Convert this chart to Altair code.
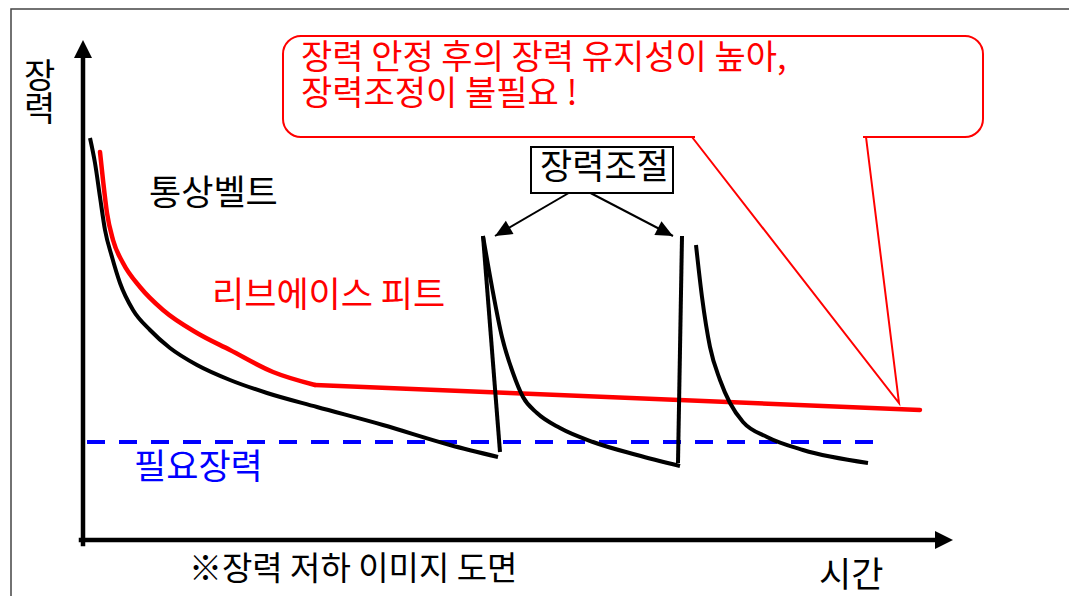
import math
import altair as alt
import pandas as pd

# ---------------- data (time, tension) ----------------
belt1_t = [0.7, 1.2, 1.7, 2.2, 2.9, 3.7, 5.0, 6.7, 8.7, 11.4, 14.7, 18.4, 23.4, 30.0, 36.7, 41.5]
belt1_v = [80.2, 75.2, 68.4, 61.8, 56.4, 51.2, 45.8, 41.8, 38.2, 34.8, 31.8, 29.2, 26.4, 22.8, 18.8, 16.4]
belt2_t = [40.0, 40.9, 41.9, 43.0, 44.0, 45.4, 47.7, 51.0, 55.4, 59.7]
belt2_v = [60.6, 50.4, 40.4, 33.2, 28.4, 25.2, 22.2, 19.4, 16.8, 14.6]
belt3_t = [61.3, 61.9, 62.7, 63.7, 64.7, 66.0, 68.4, 72.0, 78.5]
belt3_v = [58.8, 48.4, 38.4, 31.8, 27.2, 23.4, 20.4, 17.8, 15.2]
reset1_t = [41.7, 40.0]
reset1_v = [17.4, 60.6]
reset2_t = [59.5, 59.9]
reset2_v = [15.2, 60.6]
rib_curve_t = [1.7, 2.0, 2.4, 3.0, 4.0, 5.7, 8.0, 11.4, 14.7, 19.0, 23.2]
rib_curve_v = [77.4, 71.8, 65.2, 59.8, 55.2, 50.4, 45.8, 41.2, 37.8, 33.4, 30.8]
rib_flat_t = [23.2, 42.7, 83.7]
rib_flat_v = [30.8, 29.2, 25.8]
need_t = [0.4, 79.5]
need_v = [19.4, 19.4]

# axes (origin, arrow tips)
yaxis_t = [0.0, 0.0]
yaxis_v = [-1.0, 97.0]
xaxis_t = [-0.2, 85.5]
xaxis_v = [-0.2, -0.2]
axis_tip_t = [0.0, 87.0]
axis_tip_v = [99.8, -0.2]
axis_tip_angle = [0, 90]

# "장력조절" box and its arrows
box_x = [44.8, 59.0]
box_y = [69.2, 78.4]
arrow_from = (49.6, 70.4)
arrow_tip_t = [41.2, 59.0]
arrow_tip_v = [60.6, 60.6]

# callout
call_x = [20.0, 90.0]
call_y = [80.4, 100.6]
pointer_t = [60.9, 81.6, 78.3]
pointer_v = [80.4, 27.2, 80.4]
gap_t = [61.2, 78.0]

# frame
frame_left_t = -7.2
frame_top_v = 106.0

labels = ["장\n력", "통상벨트", "리브에이스 피트", "필요장력", "※장력 저하 이미지 도면",
          "시간", "장력조절", "장력 안정 후의 장력 유지성이 높아,\n장력조정이 불필요 !"]
label_t = [-5.9, 6.6, 12.9, 5.1, 10.6, 73.6, 45.7, 21.8]
label_v = [92.2, 69.0, 48.6, 14.2, -6.2, -7.4, 74.2, 96.0]
label_size = [34, 35, 35, 35, 33, 35, 35, 34]
label_lh = [33, 35, 35, 35, 33, 35, 35, 36]
label_color = ["black", "black", "#ff0000", "#0000ff", "black",
               "black", "black", "#ff0000"]

# ---------------- geometry of plot ----------------
W, H = 1061, 588
X_DOM = [-7.5, 98.6]
Y_DOM = [-11.4, 106.2]
PX_X = W / (X_DOM[1] - X_DOM[0])
PX_Y = H / (Y_DOM[1] - Y_DOM[0])

xs = alt.Scale(domain=X_DOM, nice=False, zero=False)
ys = alt.Scale(domain=Y_DOM, nice=False, zero=False)


def X(f="t"):
    return alt.X(f"{f}:Q", scale=xs, axis=None)


def Y(f="v"):
    return alt.Y(f"{f}:Q", scale=ys, axis=None)


def series(pairs):
    rows = []
    for sid, (ts, vs) in enumerate(pairs):
        for i, (t, v) in enumerate(zip(ts, vs)):
            rows.append({"s": sid, "i": i, "t": t, "v": v})
    return pd.DataFrame(rows)


FONT = "Noto Sans CJK KR"

frame_df = pd.DataFrame({"t": [frame_left_t, frame_left_t, X_DOM[1]],
                         "v": [Y_DOM[0], frame_top_v, frame_top_v], "i": [0, 1, 2]})
frame = alt.Chart(frame_df).mark_line(color="#444444", strokeWidth=1.5).encode(
    x=X(), y=Y(), order="i:Q")

# callout bubble
call_df = pd.DataFrame({"t": [call_x[0]], "t2": [call_x[1]], "v": [call_y[0]], "v2": [call_y[1]]})
callout = alt.Chart(call_df).mark_rect(fill="white", stroke="#ff0000", strokeWidth=2,
                                       cornerRadius=18).encode(
    x=X(), x2=alt.X2("t2:Q"), y=Y(), y2=alt.Y2("v2:Q"))
gap = alt.Chart(pd.DataFrame({"t": gap_t, "v": [call_y[0]] * 2})).mark_line(
    color="white", strokeWidth=5).encode(x=X(), y=Y())
pointer = alt.Chart(pd.DataFrame({"t": pointer_t, "v": pointer_v, "i": [0, 1, 2]})).mark_line(
    color="#ff0000", strokeWidth=2, strokeJoin="miter").encode(x=X(), y=Y(), order="i:Q")

# required tension
need = alt.Chart(pd.DataFrame({"t": need_t, "v": need_v})).mark_line(
    color="#0000ff", strokeWidth=4, strokeDash=[18, 14]).encode(x=X(), y=Y())

# rib ace fit
rib_curve = alt.Chart(pd.DataFrame({"t": rib_curve_t, "v": rib_curve_v})).mark_line(
    color="#ff0000", strokeWidth=4.5, interpolate="monotone", strokeCap="round").encode(x=X(), y=Y())
rib_flat = alt.Chart(pd.DataFrame({"t": rib_flat_t, "v": rib_flat_v})).mark_line(
    color="#ff0000", strokeWidth=4.5, strokeCap="round").encode(x=X(), y=Y())

# normal belt decays
decays = alt.Chart(series([(belt1_t, belt1_v), (belt2_t, belt2_v), (belt3_t, belt3_v)])).mark_line(
    color="black", strokeWidth=4, interpolate="monotone").encode(
    x=X(), y=Y(), detail="s:N", order="i:Q")
resets = alt.Chart(series([(reset1_t, reset1_v), (reset2_t, reset2_v)])).mark_line(
    color="black", strokeWidth=4).encode(x=X(), y=Y(), detail="s:N", order="i:Q")

# axes
axes_lines = alt.Chart(series([(yaxis_t, yaxis_v), (xaxis_t, xaxis_v)])).mark_line(
    color="black", strokeWidth=4.5, strokeCap="square").encode(
    x=X(), y=Y(), detail="s:N", order="i:Q")
axis_heads = alt.Chart(pd.DataFrame({"t": axis_tip_t, "v": axis_tip_v, "a": axis_tip_angle})).mark_point(
    shape="M0,0L-0.5,1L0.5,1Z", filled=True, color="black", opacity=1, size=1296, strokeWidth=0).encode(
    x=X(), y=Y(), angle=alt.Angle("a:Q", scale=None))

# box + arrows
box_df = pd.DataFrame({"t": [box_x[0]], "t2": [box_x[1]], "v": [box_y[0]], "v2": [box_y[1]]})
box = alt.Chart(box_df).mark_rect(fill="white", stroke="black", strokeWidth=2).encode(
    x=X(), x2=alt.X2("t2:Q"), y=Y(), y2=alt.Y2("v2:Q"))
arrow_pairs = [([arrow_from[0], t], [arrow_from[1], v]) for t, v in zip(arrow_tip_t, arrow_tip_v)]
arrow_lines = alt.Chart(series(arrow_pairs)).mark_line(color="black", strokeWidth=2).encode(
    x=X(), y=Y(), detail="s:N", order="i:Q")
angles = []
for t, v in zip(arrow_tip_t, arrow_tip_v):
    dx = (t - arrow_from[0]) * PX_X
    dy = -(v - arrow_from[1]) * PX_Y
    angles.append(math.degrees(math.atan2(dx, -dy)) % 360)
arrow_heads = alt.Chart(pd.DataFrame({"t": arrow_tip_t, "v": arrow_tip_v, "a": angles})).mark_point(
    shape="M0,0L-0.45,1L0.45,1Z", filled=True, color="black", opacity=1, size=1156, strokeWidth=0).encode(
    x=X(), y=Y(), angle=alt.Angle("a:Q", scale=None))

# texts (one layer per line height so multi-line labels stay single text items)
text_df = pd.DataFrame({"label": labels, "t": label_t, "v": label_v,
                        "size": label_size, "lh": label_lh, "color": label_color})
text_layers = []
for lh in sorted(set(label_lh)):
    sub = text_df[text_df["lh"] == lh]
    text_layers.append(
        alt.Chart(sub).mark_text(align="left", baseline="middle", font=FONT,
                                 lineBreak="\n", lineHeight=lh).encode(
            x=X(), y=Y(), text="label:N",
            size=alt.Size("size:Q", scale=None),
            color=alt.Color("color:N", scale=None)))

chart = alt.layer(
    frame, callout, gap, pointer, need, rib_curve, rib_flat, decays, resets, axes_lines,
    axis_heads, arrow_lines, arrow_heads, box, *text_layers
).properties(
    width=W, height=H, padding=0, autosize="none", background="white"
).configure_view(stroke=None)

chart.save("out.html", embed_options={"renderer": "svg", "actions": False})
